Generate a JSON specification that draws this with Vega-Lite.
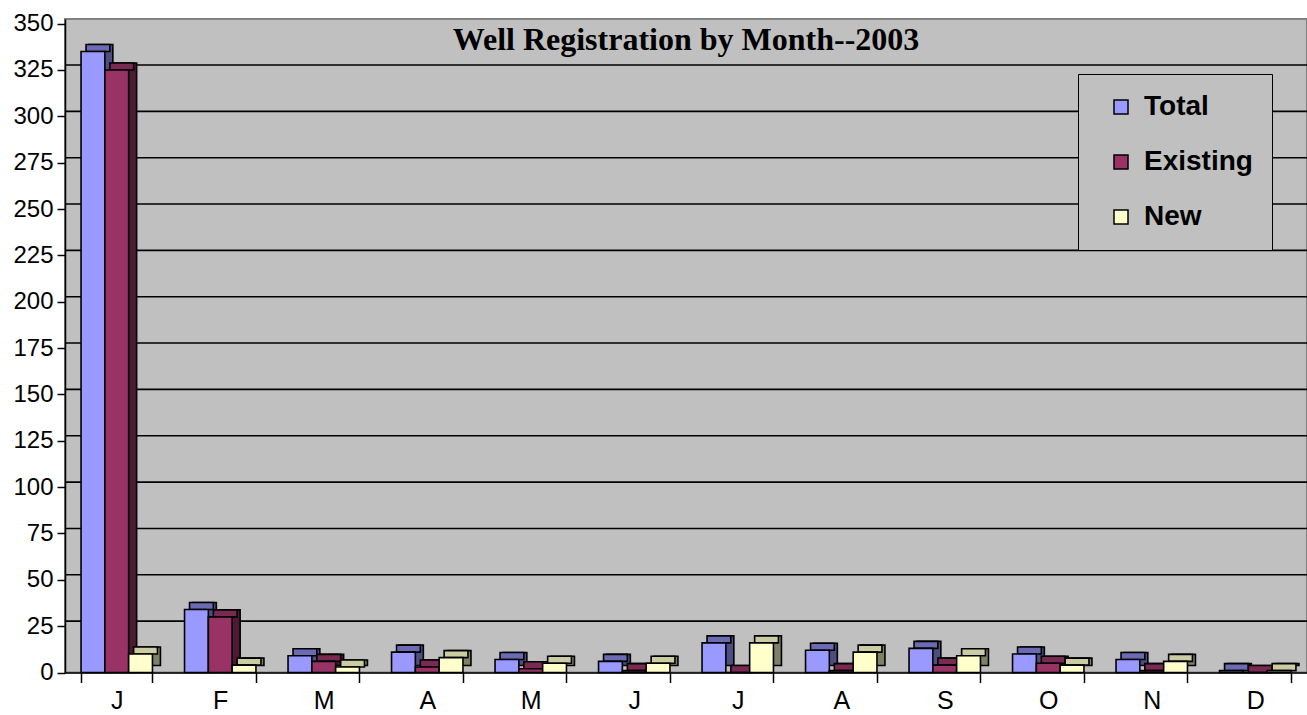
{
  "$schema": "https://vega.github.io/schema/vega-lite/v6.json",
  "width": 1242,
  "height": 653.5,
  "autosize": {"type": "none"},
  "padding": {"left": 65, "top": 19, "right": 0, "bottom": 42.5},
  "background": "white",
  "title": {
    "text": "Well Registration by Month--2003",
    "frame": "group",
    "anchor": "middle",
    "baseline": "alphabetic",
    "offset": -42,
    "dy": 28,
    "font": "Liberation Serif",
    "fontSize": 32,
    "fontWeight": "bold",
    "color": "black"
  },
  "config": {
    "view": {"fill": "#C0C0C0", "stroke": "#808080", "strokeWidth": 2},
    "font": "Liberation Sans",
    "axisX": {
      "title": null, "labelFontSize": 25, "labelColor": "black", "labelAngle": 0,
      "tickBand": "extent", "tickSize": 10, "tickColor": "black", "tickWidth": 1.5,
      "domainColor": "black", "domainWidth": 1.5, "labelPadding": 6, "grid": false,
      "labelFont": "Liberation Sans"
    },
    "axisY": {
      "title": null, "labelFontSize": 24, "labelColor": "black",
      "tickSize": 8, "tickColor": "black", "tickWidth": 1.5,
      "domainColor": "black", "domainWidth": 1.5, "labelPadding": 4, "grid": false,
      "labelFont": "Liberation Sans"
    },
    "legend": {
      "orient": "none", "legendX": 1013, "legendY": 55,
      "title": null, "symbolType": "square", "symbolSize": 196,
      "symbolStrokeColor": "black", "symbolStrokeWidth": 1.5,
      "labelFont": "Liberation Sans", "labelFontSize": 28, "labelFontWeight": "bold",
      "labelColor": "black", "strokeColor": "black", "fillColor": "#C0C0C0",
      "padding": 19, "rowPadding": 27, "symbolOffset": 10, "labelOffset": 9,
      "cornerRadius": 0
    }
  },
  "datasets": {
    "wells": [
      {"month": "Jan", "series": "Total", "value": 335},
      {"month": "Jan", "series": "Existing", "value": 325},
      {"month": "Jan", "series": "New", "value": 10},
      {"month": "Feb", "series": "Total", "value": 34},
      {"month": "Feb", "series": "Existing", "value": 30},
      {"month": "Feb", "series": "New", "value": 4},
      {"month": "Mar", "series": "Total", "value": 9},
      {"month": "Mar", "series": "Existing", "value": 6},
      {"month": "Mar", "series": "New", "value": 3},
      {"month": "Apr", "series": "Total", "value": 11},
      {"month": "Apr", "series": "Existing", "value": 3},
      {"month": "Apr", "series": "New", "value": 8},
      {"month": "May", "series": "Total", "value": 7},
      {"month": "May", "series": "Existing", "value": 2},
      {"month": "May", "series": "New", "value": 5},
      {"month": "Jun", "series": "Total", "value": 6},
      {"month": "Jun", "series": "Existing", "value": 1},
      {"month": "Jun", "series": "New", "value": 5},
      {"month": "Jul", "series": "Total", "value": 16},
      {"month": "Jul", "series": "Existing", "value": 0},
      {"month": "Jul", "series": "New", "value": 16},
      {"month": "Aug", "series": "Total", "value": 12},
      {"month": "Aug", "series": "Existing", "value": 1},
      {"month": "Aug", "series": "New", "value": 11},
      {"month": "Sep", "series": "Total", "value": 13},
      {"month": "Sep", "series": "Existing", "value": 4},
      {"month": "Sep", "series": "New", "value": 9},
      {"month": "Oct", "series": "Total", "value": 10},
      {"month": "Oct", "series": "Existing", "value": 5},
      {"month": "Oct", "series": "New", "value": 4},
      {"month": "Nov", "series": "Total", "value": 7},
      {"month": "Nov", "series": "Existing", "value": 1},
      {"month": "Nov", "series": "New", "value": 6},
      {"month": "Dec", "series": "Total", "value": 1},
      {"month": "Dec", "series": "Existing", "value": 0},
      {"month": "Dec", "series": "New", "value": 1}
    ],
    "grid": [
      {"g": 25}, {"g": 50}, {"g": 75}, {"g": 100}, {"g": 125}, {"g": 150}, {"g": 175},
      {"g": 200}, {"g": 225}, {"g": 250}, {"g": 275}, {"g": 300}, {"g": 325}
    ]
  },
  "resolve": {"scale": {"color": "independent", "xOffset": "independent"}},
  "layer": [
    {
      "data": {"name": "grid"},
      "mark": {"type": "rule", "color": "black", "strokeWidth": 1.6, "yOffset": -5},
      "encoding": {
        "y": {
          "field": "g", "type": "quantitative",
          "scale": {"domain": [0, 352.5], "nice": false},
          "axis": {"values": [0, 25, 50, 75, 100, 125, 150, 175, 200, 225, 250, 275, 300, 325, 350]}
        }
      }
    },
    {
      "data": {"name": "wells"},
      "mark": {"type": "bar", "stroke": "black", "strokeWidth": 1.6, "yOffset": -7, "y2Offset": -7},
      "encoding": {
        "x": {
          "field": "month", "type": "nominal",
          "sort": ["Jan", "Feb", "Mar", "Apr", "May", "Jun", "Jul", "Aug", "Sep", "Oct", "Nov", "Dec"],
          "scale": {"paddingInner": 0.31, "paddingOuter": 0.155},
          "axis": {"labelExpr": "substring(datum.label, 0, 1)"}
        },
        "xOffset": {"field": "series", "type": "nominal", "sort": ["Total", "Existing", "New"], "scale": {"paddingInner": 0, "paddingOuter": 0, "range": [8, 79.4]}},
        "y": {"field": "value", "type": "quantitative"},
        "color": {
          "field": "series", "type": "nominal", "legend": null,
          "scale": {"domain": ["Total", "Existing", "New"], "range": ["#4D4D80", "#4D1A33", "#808066"]}
        }
      }
    },
    {
      "data": {"name": "wells"},
      "mark": {"type": "bar", "stroke": "black", "strokeWidth": 1.6, "yOffset": -7, "y2Offset": 0},
      "encoding": {
        "x": {
          "field": "month", "type": "nominal",
          "sort": ["Jan", "Feb", "Mar", "Apr", "May", "Jun", "Jul", "Aug", "Sep", "Oct", "Nov", "Dec"]
        },
        "xOffset": {"field": "series", "type": "nominal", "sort": ["Total", "Existing", "New"], "scale": {"paddingInner": 0, "paddingOuter": 0, "range": [5, 76.4]}},
        "y": {"field": "value", "type": "quantitative"},
        "y2": {"field": "value"},
        "color": {
          "field": "series", "type": "nominal", "legend": null,
          "scale": {"domain": ["Total", "Existing", "New"], "range": ["#6B6BB3", "#7A2952", "#CCCCA3"]}
        }
      }
    },
    {
      "data": {"name": "wells"},
      "mark": {"type": "bar", "stroke": "black", "strokeWidth": 1.6},
      "encoding": {
        "x": {
          "field": "month", "type": "nominal",
          "sort": ["Jan", "Feb", "Mar", "Apr", "May", "Jun", "Jul", "Aug", "Sep", "Oct", "Nov", "Dec"]
        },
        "xOffset": {"field": "series", "type": "nominal", "sort": ["Total", "Existing", "New"], "scale": {"paddingInner": 0, "paddingOuter": 0}},
        "y": {"field": "value", "type": "quantitative"},
        "color": {
          "field": "series", "type": "nominal",
          "sort": ["Total", "Existing", "New"],
          "scale": {"domain": ["Total", "Existing", "New"], "range": ["#9999FF", "#993366", "#FFFFCC"]}
        }
      }
    }
  ]
}
